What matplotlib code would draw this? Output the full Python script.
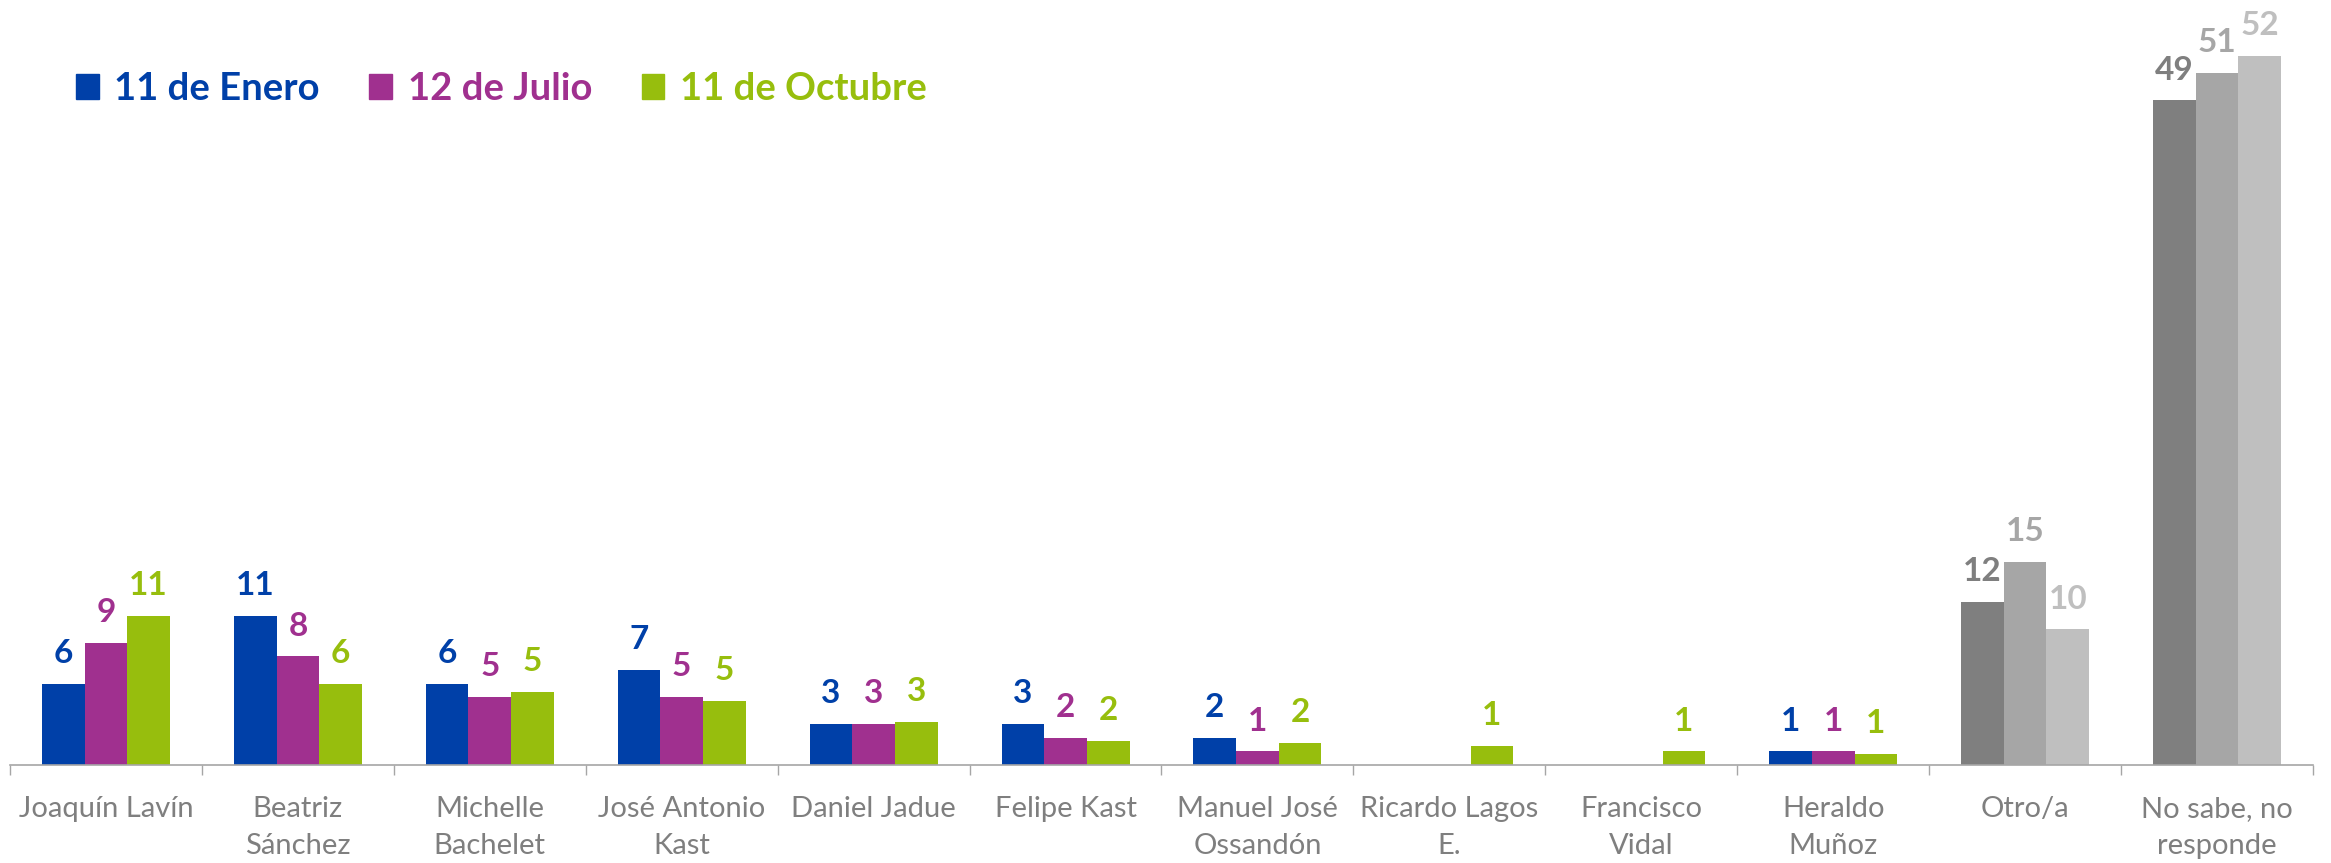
import numpy as np
import matplotlib
matplotlib.use('Agg')
import matplotlib.pyplot as plt
from matplotlib.patches import Patch

candidatos = ['Joaquín Lavín', 'Beatriz\nSánchez', 'Michelle\nBachelet', 'José Antonio\nKast',
              'Daniel Jadue', 'Felipe Kast', 'Manuel José\nOssandón', 'Ricardo Lagos\nE.',
              'Francisco\nVidal', 'Heraldo\nMuñoz', 'Otro/a', 'No sabe, no\nresponde']
series = ['11 de Enero', '12 de Julio', '11 de Octubre']

enero = [6, 11, 6, 7, 3, 3, 2, np.nan, np.nan, 1, 12, 49]
julio = [9, 8, 5, 5, 3, 2, 1, np.nan, np.nan, 1, 15, 51]
octubre = [11, 6, 5.4, 4.7, 3.2, 1.8, 1.6, 1.4, 1.0, 0.8, 10, 52.3]

colores = ['#0040A8', '#A0308F', '#97BE0D']
grises = ['#7F7F7F', '#A6A6A6', '#BFBFBF']
n_gris = 2  # las dos ultimas categorias van en gris

plt.rcParams['font.family'] = ['Lato', 'DejaVu Sans']

fig = plt.figure(figsize=(23.31, 8.63), dpi=100)
ax = fig.add_axes([10/2331, 1 - 765/863, 2303/2331, 765/863])

x = np.arange(len(candidatos))
w = 2/9
for i, vals in enumerate([enero, julio, octubre]):
    cols = [colores[i]]*(len(x) - n_gris) + [grises[i]]*n_gris
    pos = x + (i - 1)*w
    ax.bar(pos, vals, w, color=cols)
    for xi, v, c in zip(pos, vals, cols):
        if np.isnan(v):
            continue
        ax.annotate(f'{v:.0f}', (xi, v), xytext=(0, 15), textcoords='offset points',
                    ha='center', va='baseline', color=c, fontsize=24, fontweight='bold')

ax.set_xlim(-0.5, len(x) - 0.5)
ax.set_ylim(0, 56.4)
ax.set_xticks(x, candidatos)
ax.set_xticks(np.arange(len(x) + 1) - 0.5, minor=True)
ax.tick_params(axis='x', which='major', length=0, pad=22, labelsize=21, labelcolor='#7F7F7F')
for t in ax.get_xticklabels():
    t.set_linespacing(1.55)
ax.tick_params(axis='x', which='minor', length=7, width=1, color='#A6A6A6')
ax.set_yticks([])
for s in ['top', 'right', 'left']:
    ax.spines[s].set_visible(False)
ax.spines['bottom'].set_color('#A6A6A6')
ax.spines['bottom'].set_linewidth(1.2)

handles = [Patch(color=c) for c in colores]
leg = fig.legend(handles, series, loc='center left', bbox_to_anchor=(76/2331, 1 - 89/863),
                 ncol=3, frameon=False, prop={'weight': 'bold', 'size': 27.5},
                 handlelength=0.6, handleheight=0.65, handletextpad=0.4, columnspacing=1.3,
                 borderpad=0, borderaxespad=0)
for t, c in zip(leg.get_texts(), colores):
    t.set_color(c)

fig.savefig('out.png', dpi=100)
